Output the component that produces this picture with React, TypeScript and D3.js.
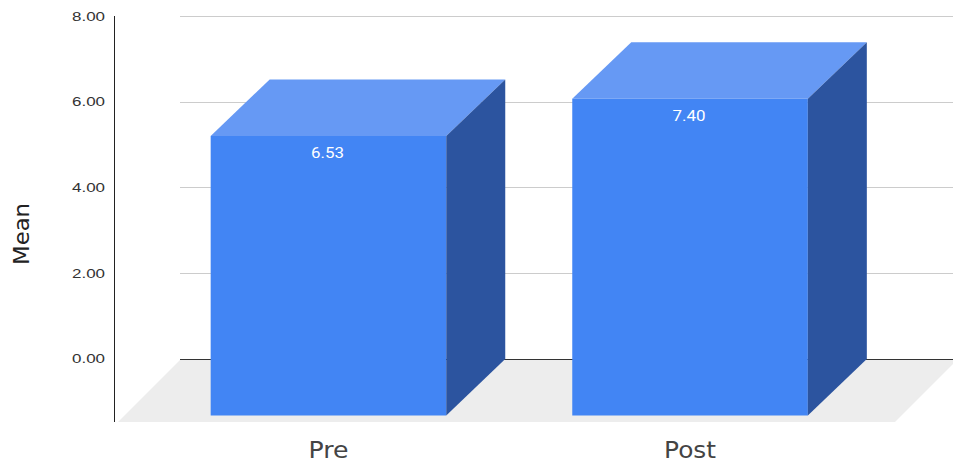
import React from "react";
import * as d3 from "d3";

const categories = ["Pre", "Post"];
const categoryLabelWidths = [40, 52];
const means = [6.53, 7.4];
const yTicks = [0, 2, 4, 6, 8];

const WIDTH = 953;
const HEIGHT = 464;
const depthX = 59;
const depthY = 56.5;
const floorDepth = 63;

const y = d3.scaleLinear().domain([0, 8]).range([359, 16.5]);
const x = d3
  .scaleBand<string>()
  .domain(categories)
  .range([147.75, 870.75])
  .paddingInner(0.3485)
  .paddingOuter(0.174);

const poly = d3.line();
const fmt = d3.format(".2f");

export default function App() {
  const frontBottom = y(0) + depthY;
  const floorLeft = 181;
  const floorRight = 958;
  return (
    <svg
      width={WIDTH}
      height={HEIGHT}
      viewBox={`0 0 ${WIDTH} ${HEIGHT}`}
      style={{ position: "absolute", left: 0, top: 0, background: "#fff" }}
    >
      {/* floor of the 3D plot */}
      <path
        d={
          poly([
            [floorLeft, y(0)],
            [floorRight, y(0)],
            [floorRight - floorDepth, y(0) + floorDepth],
            [floorLeft - floorDepth, y(0) + floorDepth],
          ]) + "Z"
        }
        fill="#ededed"
      />
      {/* gridlines on the back wall */}
      {yTicks.map((t) => (
        <line
          key={t}
          x1={180}
          x2={WIDTH}
          y1={y(t)}
          y2={y(t)}
          stroke={t === 0 ? "#333" : "#ccc"}
          strokeWidth={1}
          shapeRendering="crispEdges"
        />
      ))}
      {/* vertical axis */}
      <line
        x1={114}
        x2={114}
        y1={16}
        y2={422}
        stroke="#222"
        strokeWidth={1}
        shapeRendering="crispEdges"
      />
      {yTicks.map((t) => (
        <text
          key={t}
          x={105}
          y={y(t) - 0.5}
          dy="0.35em"
          textAnchor="end"
          fontFamily="Liberation Sans, sans-serif"
          fontSize={13.5}
          textLength={33}
          lengthAdjust="spacingAndGlyphs"
          fill="#333"
        >
          {fmt(t)}
        </text>
      ))}
      <text
        transform="translate(29,234) rotate(-90)"
        textAnchor="middle"
        fontFamily="DejaVu Sans, sans-serif"
        fontSize={21}
        textLength={62}
        lengthAdjust="spacingAndGlyphs"
        fill="#222"
      >
        Mean
      </text>
      {/* bars: front, side and top faces */}
      {categories.map((c, i) => {
        const v = means[i];
        const x0 = x(c)!;
        const x1 = x0 + x.bandwidth();
        const top = y(v) + depthY;
        return (
          <g key={c}>
            <rect x={x0} y={top} width={x1 - x0} height={frontBottom - top} fill="#4285f4" />
            <path
              d={
                poly([
                  [x0, top],
                  [x0 + depthX, top - depthY],
                  [x1 + depthX, top - depthY],
                  [x1, top],
                ]) + "Z"
              }
              fill="#6699f4"
            />
            <path
              d={
                poly([
                  [x1, top],
                  [x1 + depthX, top - depthY],
                  [x1 + depthX, frontBottom - depthY],
                  [x1, frontBottom],
                ]) + "Z"
              }
              fill="#2c549f"
            />
            <text
              x={(x0 + x1) / 2 - 1}
              y={top + 17}
              dy="0.35em"
              textAnchor="middle"
              fontFamily="Roboto, sans-serif"
              fontSize={14.5}
              textLength={33}
              lengthAdjust="spacingAndGlyphs"
              fill="#fff"
            >
              {fmt(v)}
            </text>
            <text
              x={(x0 + x1) / 2}
              y={458}
              textAnchor="middle"
              fontFamily="DejaVu Sans, sans-serif"
              fontSize={23}
              textLength={categoryLabelWidths[i]}
              lengthAdjust="spacingAndGlyphs"
              fill="#444"
            >
              {c}
            </text>
          </g>
        );
      })}
    </svg>
  );
}
